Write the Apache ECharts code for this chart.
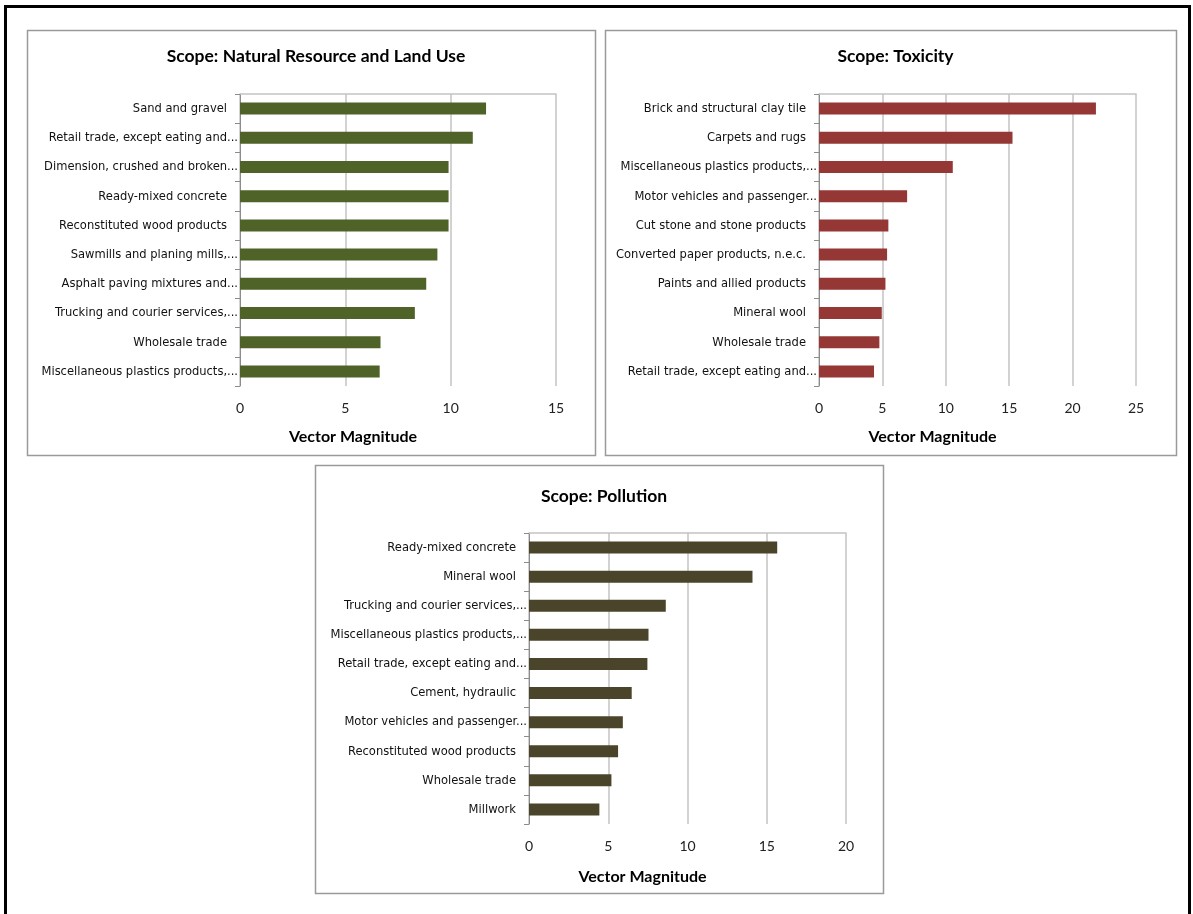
<!DOCTYPE html>
<html>
<head>
<meta charset="utf-8">
<script src="https://cdn.jsdelivr.net/npm/echarts@6/dist/echarts.min.js"></script>
<style>
  html, body { margin: 0; padding: 0; background: #ffffff; }
  #chart { width: 1193px; height: 914px; }
</style>
</head>
<body>
<div id="chart"></div>
<script>
// ---- Data ----
const titles = ["Scope: Natural Resource and Land Use", "Scope: Toxicity", "Scope: Pollution"];
const axisTitle = "Vector Magnitude";

const landCategories = ["Sand and gravel", "Retail trade, except eating and...", "Dimension, crushed and broken...", "Ready-mixed concrete", "Reconstituted wood products", "Sawmills and planing mills,...", "Asphalt paving mixtures and...", "Trucking and courier services,...", "Wholesale trade", "Miscellaneous plastics products,..."];
const landValues = [11.68, 11.05, 9.9, 9.9, 9.9, 9.37, 8.84, 8.3, 6.67, 6.63];

const toxCategories = ["Brick and structural clay tile", "Carpets and rugs", "Miscellaneous plastics products,...", "Motor vehicles and passenger...", "Cut stone and stone products", "Converted paper products, n.e.c.", "Paints and allied products", "Mineral wool", "Wholesale trade", "Retail trade, except eating and..."];
const toxValues = [21.84, 15.26, 10.55, 6.95, 5.47, 5.37, 5.24, 4.95, 4.76, 4.34];

const polCategories = ["Ready-mixed concrete", "Mineral wool", "Trucking and courier services,...", "Miscellaneous plastics products,...", "Retail trade, except eating and...", "Cement, hydraulic", "Motor vehicles and passenger...", "Reconstituted wood products", "Wholesale trade", "Millwork"];
const polValues = [15.66, 14.1, 8.63, 7.54, 7.47, 6.48, 5.92, 5.62, 5.2, 4.44];

const axisMax = [15, 25, 20];
const tickStep = 5;

// ---- Layout / style ----
const panels = [
  { box: [27, 30, 568, 425], titleTop: 42, nameGap: 43, grid: { left: 240, top: 94, width: 316, height: 292 }, color: '#4F6228', cats: landCategories, vals: landValues },
  { box: [605, 30, 571, 425], titleTop: 42, nameGap: 43, grid: { left: 819, top: 94, width: 317, height: 292 }, color: '#953735', cats: toxCategories, vals: toxValues },
  { box: [315, 465, 568, 428], titleTop: 482, nameGap: 45, grid: { left: 529, top: 533, width: 317, height: 291 }, color: '#4A452A', cats: polCategories, vals: polValues }
];

const catFont = '"Liberation Sans Narrow", "Arial Narrow", "DejaVu Sans Condensed", sans-serif';
const catSize = 12.8;
const numFont = 'Lato, "Open Sans", sans-serif';
const gridColor = '#c3c3c3';

const grids = [], xAxes = [], yAxes = [], series = [], titleList = [], graphics = [];

graphics.push({ type: 'rect', shape: { x: 5.5, y: 6.5, width: 1184, height: 930 }, style: { fill: 'none', stroke: '#000', lineWidth: 3 }, silent: true });

panels.forEach((p, i) => {
  graphics.push({ type: 'rect', shape: { x: p.box[0] + 0.5, y: p.box[1] + 0.5, width: p.box[2], height: p.box[3] }, style: { fill: 'none', stroke: '#9a9a9a', lineWidth: 1.5 }, silent: true });
  grids.push(Object.assign({ containLabel: false }, p.grid));
  const cx = p.box[0] + p.box[2] / 2;
  titleList.push({ text: titles[i], left: cx, top: p.titleTop, textAlign: 'center',
    textStyle: { fontFamily: numFont, fontWeight: 'bold', fontSize: 17.5, color: '#000' } });
  // bottom value axis
  xAxes.push({
    type: 'value', gridIndex: i, position: 'bottom', min: 0, max: axisMax[i], interval: tickStep,
    axisLine: { show: false }, axisTick: { show: false },
    axisLabel: { margin: 15, fontFamily: numFont, fontSize: 14, color: '#222' },
    splitLine: { show: true, lineStyle: { color: gridColor, width: 1.5 } },
    name: axisTitle, nameLocation: 'middle', nameGap: p.nameGap,
    nameTextStyle: { fontFamily: numFont, fontWeight: 'bold', fontSize: 16, color: '#000', padding: [0, 90, 0, 0] }
  });
  // top line
  xAxes.push({
    type: 'value', gridIndex: i, position: 'top', min: 0, max: axisMax[i], interval: tickStep,
    axisLine: { show: true, lineStyle: { color: gridColor, width: 1.5 } }, axisTick: { show: false },
    axisLabel: { show: false }, splitLine: { show: false }
  });
  yAxes.push({
    type: 'category', gridIndex: i, data: p.cats, inverse: true,
    axisLine: { show: true, lineStyle: { color: '#8c8c8c', width: 1 } },
    axisTick: { show: true, length: 5, lineStyle: { color: '#8c8c8c' } },
    axisLabel: {
      margin: 2, fontFamily: catFont, fontSize: catSize, color: '#111',
      formatter: v => v.endsWith('...') ? v : '{a|' + v + '}',
      rich: { a: { fontFamily: catFont, fontSize: catSize, color: '#111', padding: [0, 11, 0, 0] } }
    }
  });
  series.push({
    type: 'bar', xAxisIndex: i * 2, yAxisIndex: i, data: p.vals, barWidth: 12,
    itemStyle: { color: p.color }, silent: true
  });
});

const chart = echarts.init(document.getElementById('chart'), null, { renderer: 'canvas' });
chart.setOption({
  animation: false,
  backgroundColor: '#ffffff',
  title: titleList,
  grid: grids,
  xAxis: xAxes,
  yAxis: yAxes,
  series: series,
  graphic: graphics
});
</script>
</body>
</html>
